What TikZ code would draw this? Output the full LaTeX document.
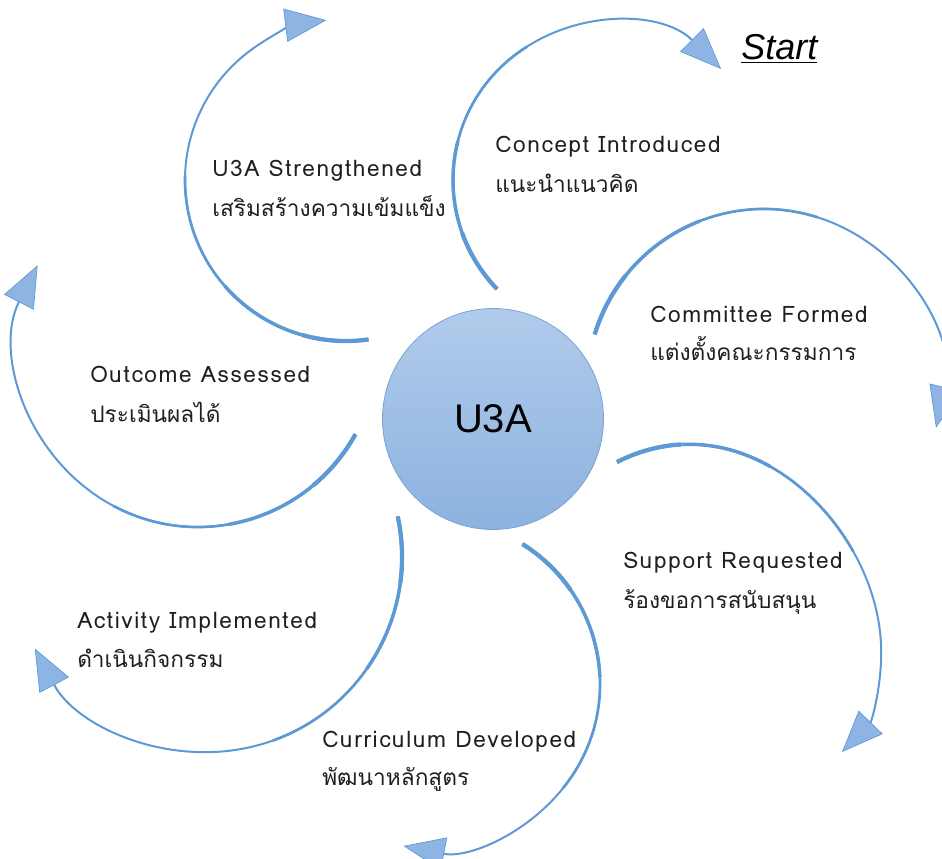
\documentclass[tikz,border=0pt]{standalone}
\usepackage{fontspec}
\newfontfamily\thaifont[Script=Thai]{Loma}
\newfontfamily\engfont[LetterSpace=7]{Loma}
\newfontfamily\hubfont{Liberation Sans}
\usetikzlibrary{arrows.meta}

\definecolor{arcblue}{RGB}{93,153,212}
\definecolor{tipblue}{RGB}{141,180,226}
\definecolor{hubtop}{RGB}{177,203,235}
\definecolor{hubbottom}{RGB}{140,178,223}
\definecolor{hubline}{RGB}{120,163,215}

\tikzset{
  arcline/.style={draw=arcblue, line width=1.5pt,
    -{Triangle[length=31pt,width=25pt,line width=0.5pt,fill=tipblue]},
    postaction={draw=arcblue, -, line width=2pt, dash pattern=on 210pt off 2000pt},
    postaction={draw=arcblue, -, line width=2.6pt, dash pattern=on 120pt off 2000pt},
    postaction={draw=arcblue, -, line width=3.2pt, dash pattern=on 50pt off 2000pt}},
  steplabel/.style={anchor=base west, inner sep=0pt, text=black!88,
    font=\engfont\fontsize{17}{20}\selectfont},
  thailabel/.style={steplabel, font=\thaifont\fontsize{17}{20}\selectfont},
  hub/.style={circle, minimum size=165.75pt, inner sep=0pt, draw=hubline,
    line width=0.6pt, top color=hubtop, bottom color=hubbottom,
    font=\hubfont\fontsize{30}{36}\selectfont}
}

\begin{document}
\begin{tikzpicture}[x=0.75pt,y=-0.75pt]
    \useasboundingbox (0,0) rectangle (942,859);
    \clip (0,0) rectangle (942,859);

    % Centre
    \node[hub] (hub) at (493,419) {U3A};
    \node[anchor=base west, inner sep=0pt, font=\hubfont\itshape\fontsize{27}{32}\selectfont] (start) at (741,60) {\underline{Start}};

    % Arcs
    \draw[arcline] (610,180) ++(136:157) arc[start angle=136, end angle=315, radius=157];
    \draw[arcline] (764,386) ++(197:177) arc[start angle=197, end angle=373.6, radius=177];
    \draw[arcline] (617,462) .. controls (746.75,396.75) and (874.81,523.88) .. (880.95,642.99)
                   .. controls (883,682.69) and (871.5,721.5) .. (842,752);
    \draw[arcline] (435,684) ++(-58:165) arc[start angle=-58, end angle=101, radius=165];
    \draw[arcline] (207,557) ++(-12:195) arc[start angle=-12, end angle=152, radius=195];
    \draw[arcline] (198,347) ++(29:180) arc[start angle=29, end angle=207, radius=180];
    \draw[arcline] (346,180) ++(82:161) arc[start angle=82, end angle=263, radius=161];

    % Labels
    \node[steplabel] (concept) at (495,153) {Concept Introduced};
    \node[thailabel] (conceptth) at (495,193) {แนะนำแนวคิด};
    \node[steplabel] (committee) at (650,322) {Committee Formed};
    \node[thailabel] (committeeth) at (650,360) {แต่งตั้งคณะกรรมการ};
    \node[steplabel] (support) at (623,568) {Support Requested};
    \node[thailabel] (supportth) at (623,608) {ร้องขอการสนับสนุน};
    \node[steplabel] (curriculum) at (322,747) {Curriculum Developed};
    \node[thailabel] (curriculumth) at (322,785) {พัฒนาหลักสูตร};
    \node[steplabel] (activity) at (77,628) {Activity Implemented};
    \node[thailabel] (activityth) at (77,667) {ดำเนินกิจกรรม};
    \node[steplabel] (outcome) at (90,382) {Outcome Assessed};
    \node[thailabel] (outcometh) at (90,422) {ประเมินผลได้};
    \node[steplabel] (strengthened) at (212,177) {U3A Strengthened};
    \node[thailabel] (strengthenedth) at (212,217) {เสริมสร้างความเข้มแข็ง};

\end{tikzpicture}
\end{document}
